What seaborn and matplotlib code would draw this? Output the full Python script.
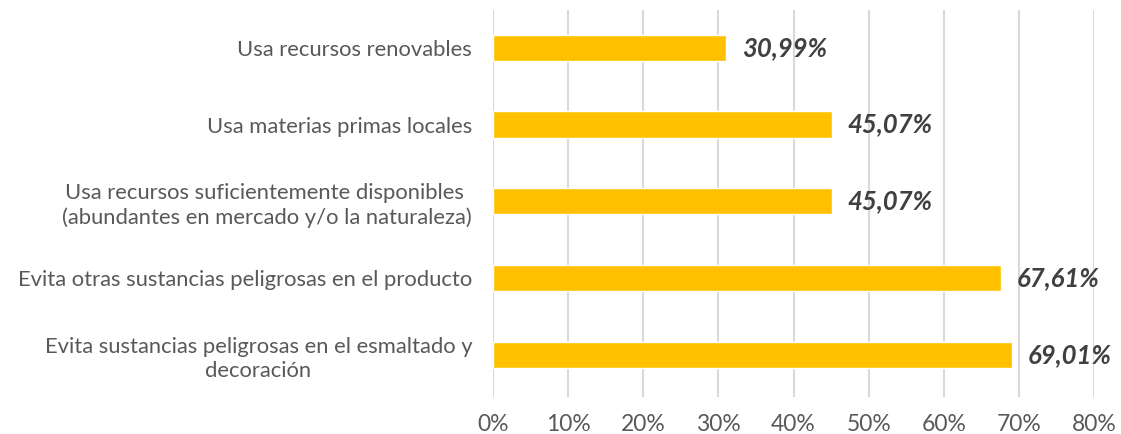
import matplotlib
matplotlib.use("Agg")
import matplotlib.pyplot as plt
import seaborn as sns
import pandas as pd

categories = [
    "Usa recursos renovables",
    "Usa materias primas locales",
    "Usa recursos suficientemente disponibles \n(abundantes en mercado y/o la naturaleza)",
    "Evita otras sustancias peligrosas en el producto",
    "Evita sustancias peligrosas en el esmaltado y\ndecoración",
]
values = [30.99, 45.07, 45.07, 67.61, 69.01]
tick_values = [0, 10, 20, 30, 40, 50, 60, 70, 80]
tick_labels = ["0%", "10%", "20%", "30%", "40%", "50%", "60%", "70%", "80%"]

sns.set_theme(style="white")
plt.rcParams["font.family"] = ["Lato", "DejaVu Sans"]

df = pd.DataFrame({"categoria": categories, "valor": values})

fig = plt.figure(figsize=(11.21, 4.34), dpi=100)
ax = fig.add_axes([0.4398, 0.0853, 0.5362, 0.8917])

sns.barplot(data=df, y="categoria", x="valor", orient="h", color="#FFC000",
            width=0.34, saturation=1, ax=ax)

ax.set_xlim(0, 80)
ax.set_ylim(4.545, -0.49)
ax.set_xticks(tick_values)
ax.set_xticklabels(tick_labels)
ax.xaxis.grid(True, color="#D9D9D9", linewidth=1.5)
ax.set_axisbelow(True)
for s in ax.spines.values():
    s.set_visible(False)
ax.tick_params(axis="x", length=0, pad=12, labelsize=16.5, labelcolor="#595959")
ax.tick_params(axis="y", length=0, pad=15, labelsize=15.8, labelcolor="#595959")
for lbl in ax.get_yticklabels():
    lbl.set_horizontalalignment("right")
    lbl.set_multialignment("center")
    lbl.set_linespacing(1.25)
ax.set_xlabel("")
ax.set_ylabel("")

for i, v in enumerate(values):
    ax.text(v + 2.1, i, f"{v:.2f}%".replace(".", ","), va="center", ha="left",
            fontsize=18.5, fontweight="bold", fontstyle="italic", color="#404040")

fig.savefig("out.png", dpi=100)
